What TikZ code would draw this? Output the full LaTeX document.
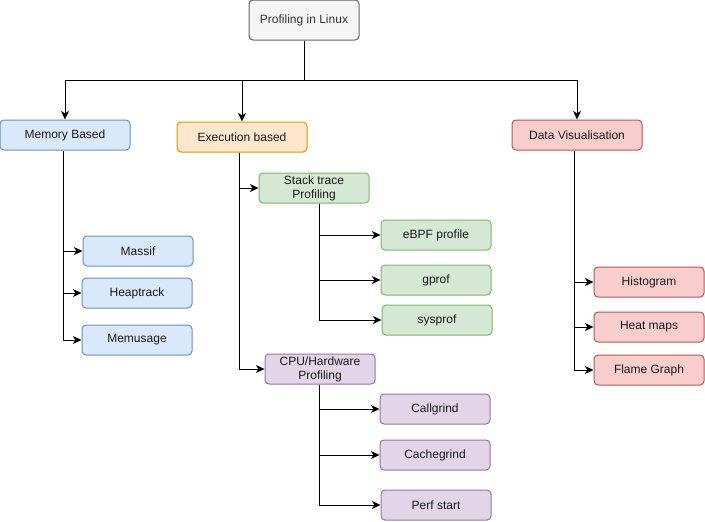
\documentclass[tikz,border=0pt]{standalone}
\usepackage{fontspec}
\setmainfont{Liberation Sans}
\usetikzlibrary{arrows.meta}
\definecolor{rootfill}{HTML}{F5F5F5}\definecolor{rootline}{HTML}{666666}\definecolor{roottext}{HTML}{333333}
\definecolor{bluefill}{HTML}{DAE8FC}\definecolor{blueline}{HTML}{6C8EBF}
\definecolor{orangefill}{HTML}{FFE6CC}\definecolor{orangeline}{HTML}{D79B00}
\definecolor{redfill}{HTML}{F8CECC}\definecolor{redline}{HTML}{B85450}
\definecolor{greenfill}{HTML}{D5E8D4}\definecolor{greenline}{HTML}{82B366}
\definecolor{purplefill}{HTML}{E1D5E7}\definecolor{purpleline}{HTML}{9673A6}
\begin{document}
\begin{tikzpicture}[x=0.75pt,y=-0.75pt,
  box/.style={draw,rounded corners=3pt,line width=0.75pt,inner sep=0pt,
    minimum width=82.5pt,minimum height=22.5pt,align=center,
    font=\fontsize{9}{10.5}\selectfont,text=black!90},
  wide/.style={minimum width=97.5pt},
  rootbox/.style={box,fill=rootfill,draw=rootline,text=roottext,minimum height=30pt},
  bluebox/.style={box,fill=bluefill,draw=blueline},
  orangebox/.style={box,fill=orangefill,draw=orangeline},
  redbox/.style={box,fill=redfill,draw=redline},
  greenbox/.style={box,fill=greenfill,draw=greenline},
  purplebox/.style={box,fill=purplefill,draw=purpleline},
  link/.style={line width=0.75pt,draw=black},
  arr/.style={link,-{Stealth[length=6.5pt,width=6pt,inset=2pt]}}]
\useasboundingbox (0,0) rectangle (705,521);
% nodes
\node[rootbox] (root) at (304,20) {Profiling in Linux};
\node[bluebox,wide] (mem) at (65,135) {Memory Based};
\node[orangebox,wide] (exe) at (242,137) {Execution based};
\node[redbox,wide] (dv) at (577,135) {Data Visualisation};
\node[greenbox] (st) at (314,188) {Stack trace\\Profiling};
\node[greenbox] (ebpf) at (436,235) {eBPF profile};
\node[greenbox] (gprof) at (436,280) {gprof};
\node[greenbox] (sysprof) at (437,320) {sysprof};
\node[purplebox] (cpu) at (320,369) {CPU/Hardware\\Profiling};
\node[purplebox] (callgrind) at (435,409) {Callgrind};
\node[purplebox] (cachegrind) at (435,455) {Cachegrind};
\node[purplebox] (perf) at (436,505) {Perf start};
\node[bluebox] (massif) at (138,251) {Massif};
\node[bluebox] (heaptrack) at (137,293) {Heaptrack};
\node[bluebox] (memusage) at (137,340) {Memusage};
\node[redbox] (hist) at (649,282) {Histogram};
\node[redbox] (heat) at (649,327) {Heat maps};
\node[redbox] (flame) at (649,370) {Flame Graph};
% root bus
\coordinate (bus) at (304,80);
\draw[link] (root.south) -- (bus);
\draw[arr] (bus) -| (mem.north);
\draw[arr] (bus) -| (exe.north);
\draw[arr] (bus) -| (dv.north);
% memory
\draw[arr] ([xshift=-1.5pt]mem.south) |- (massif.west);
\draw[arr] ([xshift=-1.5pt]mem.south) |- (heaptrack.west);
\draw[arr] ([xshift=-1.5pt]mem.south) |- (memusage.west);
% execution
\draw[arr] ([xshift=-2.25pt]exe.south) |- (st.west);
\draw[arr] ([xshift=-2.25pt]exe.south) |- (cpu.west);
% stack trace
\draw[arr] ([xshift=3.75pt]st.south) |- (ebpf.west);
\draw[arr] ([xshift=3.75pt]st.south) |- (gprof.west);
\draw[arr] ([xshift=3.75pt]st.south) |- (sysprof.west);
% cpu
\draw[arr] ([xshift=-0.75pt]cpu.south) |- (callgrind.west);
\draw[arr] ([xshift=-0.75pt]cpu.south) |- (cachegrind.west);
\draw[arr] ([xshift=-0.75pt]cpu.south) |- (perf.west);
% data vis
\draw[arr] ([xshift=-2.25pt]dv.south) |- (hist.west);
\draw[arr] ([xshift=-2.25pt]dv.south) |- (heat.west);
\draw[arr] ([xshift=-2.25pt]dv.south) |- (flame.west);
\end{tikzpicture}
\end{document}
